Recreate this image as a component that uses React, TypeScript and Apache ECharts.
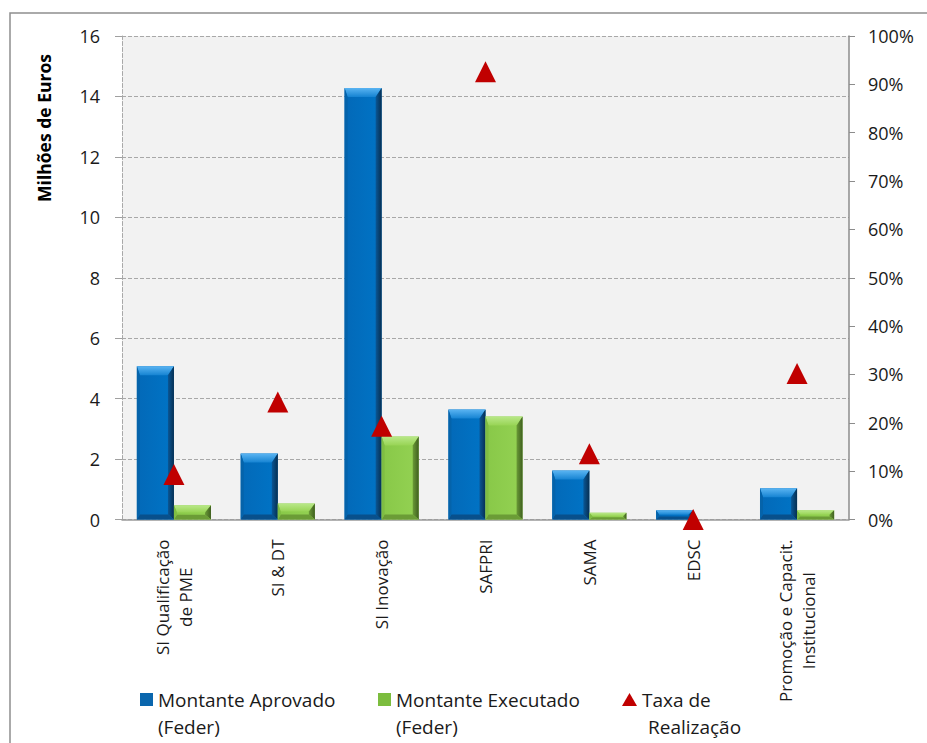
import React, { useEffect, useRef } from "react";
import * as echarts from "echarts";

const categories = [
  "SI Qualificação\nde PME",
  "SI & DT",
  "SI Inovação",
  "SAFPRI",
  "SAMA",
  "EDSC",
  "Promoção e Capacit.\nInstitucional",
];
const montanteAprovado = [5.07, 2.18, 14.28, 3.64, 1.62, 0.31, 1.03];
const montanteExecutado = [0.47, 0.53, 2.75, 3.41, 0.22, 0, 0.31];
const taxaRealizacao = [9.3, 24.3, 19.3, 92.6, 13.6, 0, 30.2];

const seriesNames = [
  "Montante Aprovado (Feder)",
  "Montante Executado (Feder)",
  "Taxa de Realização",
];
const legendLabels = [
  "Montante Aprovado\n(Feder)",
  "Montante Executado\n(Feder)",
  "Taxa de\n{r|Realização}",
];
const leftAxisMax = 16;
const leftAxisInterval = 2;
const rightAxisMax = 100;
const rightAxisInterval = 10;

const FONT = "Open Sans";
const BAR_RATIO = 0.357;

type Pal = { face: [string, string]; top: [string, string]; right: [string, string]; bottom: string; left: string };
const bluePal: Pal = {
  face: ["#0369b8", "#0074c6"],
  top: ["#5ab4f2", "#1583d2"],
  right: ["#0a5796", "#062f52"],
  bottom: "#08508c",
  left: "#0563aa",
};
const greenPal: Pal = {
  face: ["#88c848", "#94d253"],
  top: ["#b9e889", "#98d455"],
  right: ["#6a9a36", "#3f5f20"],
  bottom: "#6b9c36",
  left: "#7fbd43",
};

function bevelBar(side: 0 | 1, pal: Pal) {
  return (params: any, api: any) => {
    const i = api.value(0);
    const v = api.value(1);
    const p0 = api.coord([i, 0]);
    const p1 = api.coord([i, v]);
    const band = api.size([1, 0])[0];
    const w = band * BAR_RATIO;
    const x0 = side === 0 ? p0[0] - w : p0[0];
    const x1 = x0 + w;
    const y0 = p1[1];
    const y1 = p0[1];
    const h = y1 - y0;
    if (h < 0.5) return null;
    const bt = Math.min(9, h / 2);
    const bs = Math.min(6, w / 4, h / 2);
    const bl = Math.min(3, w / 6, h / 2);
    const bb = Math.min(5, h / 3);
    return {
      type: "group",
      children: [
        {
          type: "rect",
          shape: { x: x0, y: y0, width: w, height: h },
          style: {
            fill: new echarts.graphic.LinearGradient(0, 0, 1, 0, [
              { offset: 0, color: pal.face[0] },
              { offset: 1, color: pal.face[1] },
            ]),
          },
        },
        {
          type: "polygon",
          shape: { points: [[x0, y0], [x1, y0], [x1 - bs, y0 + bt], [x0 + bl, y0 + bt]] },
          style: {
            fill: new echarts.graphic.LinearGradient(0, 0, 0, 1, [
              { offset: 0, color: pal.top[0] },
              { offset: 1, color: pal.top[1] },
            ]),
          },
        },
        {
          type: "polygon",
          shape: { points: [[x1, y0], [x1, y1], [x1 - bs, y1 - bb], [x1 - bs, y0 + bt]] },
          style: {
            fill: new echarts.graphic.LinearGradient(0, 0, 1, 0, [
              { offset: 0, color: pal.right[0] },
              { offset: 1, color: pal.right[1] },
            ]),
          },
        },
        {
          type: "polygon",
          shape: { points: [[x0, y1], [x1, y1], [x1 - bs, y1 - bb], [x0 + bl, y1 - bb]] },
          style: { fill: pal.bottom },
        },
        {
          type: "polygon",
          shape: { points: [[x0, y0], [x0 + bl, y0 + bt], [x0 + bl, y1 - bb], [x0, y1]] },
          style: { fill: pal.left },
        },
      ],
    };
  };
}

const legendBase = (left: number, itemWidth: number) => ({
  left,
  top: 659,
  padding: 0,
  orient: "horizontal",
  itemWidth,
  itemHeight: 13,
  selectedMode: false,
  textStyle: {
    fontFamily: FONT,
    fontSize: 19,
    color: "#1a1a1a",
    lineHeight: 27,
    padding: [27, 0, 0, 0],
    rich: { r: { fontFamily: FONT, fontSize: 19, color: "#1a1a1a", lineHeight: 27, padding: [0, 0, 0, 6] } },
  },
  formatter: (name: string) => legendLabels[seriesNames.indexOf(name)],
});

export default function App() {
  const ref = useRef<HTMLDivElement>(null);
  useEffect(() => {
    if (!ref.current) return;
    const chart = echarts.init(ref.current, null, { renderer: "svg" });
    const dashed = { color: "#a8a8a8", type: [4, 2] as any, width: 1 };
    chart.setOption({
      animation: false,
      backgroundColor: "#ffffff",
      textStyle: { fontFamily: FONT },
      grid: { left: 122, right: 78, top: 36, bottom: 223.5, show: true, backgroundColor: "#f2f2f2", borderWidth: 0 },
      graphic: [
        {
          type: "rect",
          silent: true,
          shape: { x: 10, y: 13, width: 1000, height: 1000 },
          style: { fill: "none", stroke: "#8f8f8f", lineWidth: 1.5 },
          z: 100,
        },
        {
          type: "text",
          x: 44,
          y: 128,
          rotation: Math.PI / 2,
          style: {
            text: "Milhões de Euros",
            fontFamily: FONT,
            fontWeight: "bold",
            fontSize: 17.5,
            fill: "#000",
            align: "center",
            verticalAlign: "middle",
          },
        },
      ],
      xAxis: {
        type: "category",
        data: categories,
        axisLine: { lineStyle: { color: "#9a9a9a", width: 1.5 } },
        axisTick: { show: false },
        splitLine: { show: false },
        axisLabel: {
          interval: 0,
          rotate: 90,
          margin: 20,
          formatter: (v: string) => v.split("\n").map((l) => `{c|${l}}`).join("\n"),
          rich: { c: { align: "center", fontFamily: FONT, fontSize: 17, color: "#1a1a1a", lineHeight: 23 } },
        },
      },
      yAxis: [
        {
          type: "value",
          min: 0,
          max: leftAxisMax,
          interval: leftAxisInterval,
          axisLine: { show: true, lineStyle: dashed },
          axisTick: { show: true, length: 7, lineStyle: { color: "#a0a0a0" } },
          axisLabel: { fontSize: 18, color: "#1a1a1a", margin: 22, fontFamily: FONT },
          splitLine: { show: true, lineStyle: dashed },
        },
        {
          type: "value",
          position: "right",
          min: 0,
          max: rightAxisMax,
          interval: rightAxisInterval,
          axisLine: { show: true, lineStyle: { color: "#8c8c8c", width: 1.5 } },
          axisTick: { show: true, length: 6, lineStyle: { color: "#8c8c8c" } },
          axisLabel: { fontSize: 18, color: "#1a1a1a", margin: 19, formatter: "{value}%", fontFamily: FONT },
          splitLine: { show: false },
        },
      ],
      legend: [
        { ...legendBase(140, 13), data: [{ name: seriesNames[0], icon: "rect" }] },
        { ...legendBase(378, 13), data: [{ name: seriesNames[1], icon: "rect" }] },
        { ...legendBase(622, 15), data: [{ name: seriesNames[2], icon: "triangle" }] },
      ],
      series: [
        {
          name: seriesNames[0],
          type: "custom",
          renderItem: bevelBar(0, bluePal),
          itemStyle: { color: "#0a66ad" },
          encode: { x: 0, y: 1 },
          data: montanteAprovado.map((v, i) => [i, v]),
        },
        {
          name: seriesNames[1],
          type: "custom",
          renderItem: bevelBar(1, greenPal),
          itemStyle: { color: "#7cbd3e" },
          encode: { x: 0, y: 1 },
          data: montanteExecutado.map((v, i) => [i, v]),
        },
        {
          name: seriesNames[2],
          type: "scatter",
          yAxisIndex: 1,
          symbol: "triangle",
          symbolSize: [21, 21],
          clip: false,
          itemStyle: { color: "#c00000", opacity: 1 },
          z: 10,
          data: taxaRealizacao,
        },
      ],
    });
    return () => chart.dispose();
  }, []);
  return (
    <div
      ref={ref}
      style={{ position: "fixed", left: 0, top: 0, width: 927, height: 743, background: "#fff" }}
    />
  );
}
